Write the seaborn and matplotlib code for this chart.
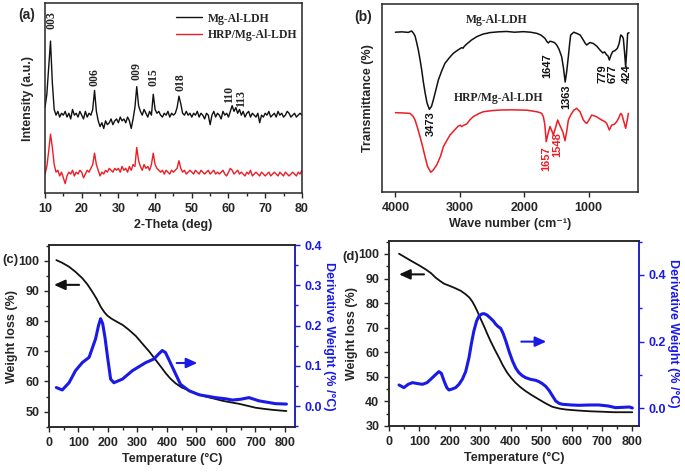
import numpy as np
import pandas as pd
import matplotlib
matplotlib.use('Agg')
import matplotlib.pyplot as plt
import seaborn as sns
from matplotlib.ticker import MultipleLocator

# ---------------- data ----------------
# (a) XRD, sampled every 0.5 deg from 10 to 80
xrd_theta = np.arange(10, 80.01, 0.5)
xrd_ldh = [45, 52, 66, 80, 58, 44, 41, 43, 40, 42,
           41, 43, 40, 42, 39, 44, 41, 42, 40, 43,
           41, 39, 43, 40, 42, 41, 44, 54, 43, 38,
           35, 37, 34, 38, 36, 37, 39, 36, 38, 39,
           37, 40, 38, 39, 37, 40, 38, 34, 39, 45,
           56, 46, 43, 41, 44, 42, 40, 43, 41, 52,
           44, 42, 43, 41, 40, 42, 41, 43, 40, 42,
           41, 42, 45, 51, 47, 42, 41, 43, 41, 42,
           40, 42, 41, 43, 40, 42, 41, 39, 42, 41,
           36, 41, 43, 40, 42, 41, 39, 43, 41, 42,
           40, 43, 46, 43, 45, 42, 44, 41, 43, 40,
           42, 43, 40, 42, 41, 40, 42, 37, 41, 40,
           42, 41, 43, 40, 41, 42, 40, 43, 41, 42,
           40, 41, 43, 42, 40, 41, 42, 40, 41, 42,
           41]
xrd_hrp = [10, 14, 22, 31, 24, 15, 11, 12, 9, 11,
           8, 5, 9, 11, 10, 12, 9, 11, 10, 12,
           11, 8, 10, 12, 11, 13, 15, 21, 15, 12,
           9, 11, 10, 12, 11, 13, 12, 11, 13, 12,
           13, 11, 14, 12, 13, 11, 14, 12, 15, 14,
           24, 17, 14, 12, 15, 13, 14, 12, 15, 21,
           15, 13, 12, 11, 12, 10, 12, 11, 10, 12,
           11, 12, 13, 17, 13, 11, 12, 10, 11, 12,
           11, 10, 12, 11, 10, 12, 11, 10, 11, 12,
           10, 11, 12, 10, 11, 10, 11, 12, 10, 9,
           11, 13, 12, 10, 11, 12, 10, 11, 10, 9,
           11, 10, 12, 9, 10, 11, 10, 9, 11, 10,
           9, 10, 11, 9, 10, 11, 10, 9, 11, 10,
           9, 11, 10, 9, 10, 11, 10, 9, 11, 10,
           12]
xrd_peak_labels = ['003', '006', '009', '015', '018', '110', '113']
xrd_peak_x = [11.8, 23.6, 35.0, 39.7, 46.8, 60.1, 63.4]
xrd_peak_y = [91, 61, 64, 61, 58.5, 52.0, 50.0]

# (b) FTIR
ftir_ldh_wn = [4000, 3900, 3800, 3760, 3747, 3720, 3695, 3670, 3644, 3618,
               3592, 3566, 3540, 3510, 3473, 3440, 3411, 3370, 3333, 3280,
               3230, 3160, 3100, 3030, 2971, 2950, 2930, 2893, 2820, 2738,
               2640, 2531, 2400, 2272, 2150, 2013, 1900, 1806, 1740, 1676,
               1647, 1625, 1600, 1573, 1530, 1495, 1460, 1418, 1390, 1363,
               1340, 1314, 1295, 1278, 1230, 1185, 1130, 1081, 1050, 1029,
               980, 926, 870, 822, 779, 750, 719, 700, 677, 650,
               625, 590, 553, 525, 501, 480, 460, 440, 424, 408,
               393, 372]
ftir_ldh_t = [85.0, 85.2, 84.9, 85.5, 85.6, 84.5, 83.0, 79.5, 75.5, 70.5,
              65.0, 58.5, 53.0, 47.5, 44.0, 45.5, 49.0, 54.5, 59.6, 64.5,
              68.5, 71.5, 73.8, 75.5, 76.8, 76.5, 77.5, 78.7, 80.8, 82.6,
              84.0, 84.8, 85.2, 85.4, 85.0, 85.3, 85.0, 84.4, 83.5, 81.7,
              80.0, 79.3, 80.2, 80.0, 79.5, 78.2, 76.0, 72.0, 66.0, 58.5,
              64.0, 72.0, 78.5, 83.5, 85.0, 84.4, 83.5, 80.8, 79.0, 78.2,
              79.5, 79.0, 77.5, 75.5, 74.0, 74.5, 72.9, 72.5, 70.2, 73.0,
              74.7, 75.2, 76.4, 79.0, 83.5, 83.0, 81.7, 74.0, 66.5, 75.0,
              84.4, 84.7]
ftir_hrp_wn = [4000, 3850, 3773, 3730, 3695, 3660, 3617, 3580, 3540, 3500,
               3451, 3410, 3358, 3300, 3255, 3200, 3152, 3080, 3023, 2990,
               2970, 2940, 2892, 2840, 2789, 2700, 2634, 2500, 2375, 2200,
               2064, 1950, 1806, 1760, 1728, 1702, 1680, 1657, 1630, 1599,
               1570, 1547, 1515, 1480, 1440, 1400, 1366, 1340, 1314, 1278,
               1230, 1185, 1133, 1081, 1050, 1029, 990, 952, 910, 874,
               830, 796, 750, 719, 677, 641, 600, 563, 530, 501,
               480, 460, 440, 424, 400, 382]
ftir_hrp_t = [42.2, 42.0, 41.8, 40.5, 38.3, 34.5, 29.4, 24.5, 18.8, 13.5,
              10.5, 11.8, 14.4, 19.0, 24.1, 27.5, 30.3, 33.0, 35.1, 35.5,
              34.8, 35.5, 36.2, 38.5, 40.1, 41.8, 42.7, 43.3, 43.6, 43.7,
              43.6, 43.5, 42.7, 42.3, 41.8, 40.0, 36.0, 26.8, 31.0, 34.8,
              32.5, 30.3, 34.0, 38.3, 35.0, 32.0, 27.3, 32.0, 38.3, 40.9,
              43.5, 44.5, 42.7, 38.3, 37.0, 36.5, 38.5, 40.9, 40.5, 40.0,
              39.0, 38.3, 37.5, 36.5, 33.0, 35.6, 36.0, 37.4, 39.5, 41.8,
              41.0, 38.3, 36.0, 33.9, 38.0, 41.8]
ftir_black_labels = ['3473', '1647', '1363', '779', '677', '424']
ftir_black_lx = [3447, 1645, 1350, 791, 620, 403]
ftir_black_ly = [36.5, 67, 50.5, 62.8, 62.8, 62.8]
ftir_red_labels = ['1657', '1548']
ftir_red_lx = [1661, 1490]
ftir_red_ly = [18, 25.5]

# (c) TGA / DTG of Mg-Al-LDH
tga_c_T = [25, 45, 68, 90, 113, 130, 147, 162, 175, 188,
           198, 212, 226, 250, 271, 295, 316, 340, 362, 380,
           396, 412, 429, 450, 475, 500, 531, 560, 588, 615,
           644, 670, 700, 730, 757, 780, 805]
tga_c_W = [100.2, 99.3, 98.0, 96.3, 94.2, 92.2, 89.7, 87.3, 84.8, 82.9,
           81.8, 80.8, 80.0, 78.7, 77.1, 75.0, 72.6, 69.9, 67.1, 64.8,
           62.7, 60.9, 59.4, 58.0, 57.0, 56.0, 55.0, 54.3, 53.6, 53.1,
           52.6, 52.0, 51.3, 50.9, 50.6, 50.4, 50.2]
dtg_c_T = [25, 45, 68, 90, 113, 136, 158, 168, 175, 182,
           190, 198, 209, 220, 249, 283, 328, 356, 370, 384,
           395, 410, 424, 446, 475, 509, 565, 600, 622, 650,
           678, 712, 768, 805]
dtg_c_D = [0.046, 0.040, 0.058, 0.088, 0.108, 0.121, 0.167, 0.200, 0.217, 0.205,
           0.170, 0.125, 0.067, 0.058, 0.067, 0.088, 0.108, 0.117, 0.128, 0.138,
           0.133, 0.110, 0.088, 0.054, 0.038, 0.028, 0.021, 0.018, 0.015, 0.017,
           0.021, 0.013, 0.006, 0.005]

# (d) TGA / DTG of HRP/Mg-Al-LDH
tga_d_T = [33, 55, 77, 100, 121, 138, 153, 168, 181, 200,
           219, 236, 252, 264, 274, 282, 290, 300, 312, 323,
           334, 348, 362, 375, 389, 402, 416, 432, 449, 470,
           493, 515, 537, 560, 581, 620, 658, 700, 740, 800]
tga_d_W = [100.1, 98.5, 96.9, 95.3, 93.7, 92.2, 90.4, 89.0, 87.9, 87.0,
           86.0, 85.0, 83.6, 82.3, 80.6, 78.8, 76.8, 73.9, 70.7, 67.5,
           64.5, 61.0, 57.7, 54.5, 51.6, 49.5, 47.6, 45.8, 44.2, 42.5,
           40.8, 39.2, 37.8, 37.1, 36.7, 36.3, 36.0, 35.8, 35.6, 35.6]
dtg_d_T = [33, 49, 63, 77, 95, 110, 125, 137, 152, 164,
           172, 181, 190, 197, 208, 219, 230, 241, 252, 263,
           271, 279, 288, 296, 305, 312, 322, 334, 343, 351,
           359, 367, 375, 384, 395, 406, 417, 427, 438, 449,
           465, 482, 493, 504, 515, 526, 537, 548, 559, 570,
           600, 625, 660, 690, 720, 745, 770, 790, 800]
dtg_d_D = [0.070, 0.062, 0.072, 0.077, 0.074, 0.072, 0.077, 0.087, 0.100, 0.110,
           0.105, 0.082, 0.062, 0.055, 0.058, 0.062, 0.072, 0.087, 0.110, 0.152,
           0.195, 0.232, 0.262, 0.277, 0.283, 0.284, 0.280, 0.270, 0.262, 0.252,
           0.245, 0.240, 0.225, 0.202, 0.170, 0.142, 0.120, 0.107, 0.098, 0.092,
           0.087, 0.084, 0.080, 0.074, 0.066, 0.054, 0.038, 0.022, 0.015, 0.012,
           0.010, 0.009, 0.010, 0.010, 0.007, 0.002, 0.003, 0.004, 0.001]

# ---------------- style ----------------
sns.set_theme(style='ticks')
plt.rcParams['font.family'] = ['Liberation Sans', 'DejaVu Sans']
plt.rcParams['font.weight'] = 'bold'
plt.rcParams['axes.labelweight'] = 'bold'
plt.rcParams['axes.linewidth'] = 1.1
plt.rcParams['xtick.major.width'] = 1.0
plt.rcParams['ytick.major.width'] = 1.0
plt.rcParams['xtick.labelsize'] = 9
plt.rcParams['ytick.labelsize'] = 9
plt.rcParams['axes.labelsize'] = 9

BLACK = '#111111'
RED = '#ee1c25'
BLUE = '#1a1ae6'
SERIF = {'family': 'Liberation Serif', 'weight': 'bold'}

fig = plt.figure(figsize=(6.85, 4.72), dpi=100)
ax_a = fig.add_axes([0.0657, 0.591, 0.375, 0.4025])
ax_b = fig.add_axes([0.5577, 0.5932, 0.3737, 0.3983])
ax_c = fig.add_axes([0.0715, 0.0953, 0.3591, 0.3856])
ax_d = fig.add_axes([0.5679, 0.0975, 0.365, 0.392])

# ---------- (a) ----------
sns.lineplot(x=xrd_theta, y=xrd_ldh, ax=ax_a, color=BLACK, lw=1.0, label='Mg-Al-LDH')
sns.lineplot(x=xrd_theta, y=xrd_hrp, ax=ax_a, color=RED, lw=1.0, label='HRP/Mg-Al-LDH')
ax_a.set_xlim(10, 80)
ax_a.set_ylim(0, 100)
ax_a.set_yticks([])
ax_a.xaxis.set_major_locator(MultipleLocator(10))
ax_a.xaxis.set_minor_locator(MultipleLocator(5))
ax_a.tick_params(axis='x', which='major', length=3.5, direction='out')
ax_a.tick_params(axis='x', which='minor', length=2, direction='out')
ax_a.set_xlabel('2-Theta (deg)', labelpad=3)
ax_a.set_ylabel('Intensity (a.u.)', labelpad=8)
for lab, x, y in zip(xrd_peak_labels, xrd_peak_x, xrd_peak_y):
    ax_a.text(x, y, lab, rotation=90, ha='center', va='center', fontsize=8.5, fontdict=SERIF)
ax_a.legend(loc='upper left', bbox_to_anchor=(0.49, 0.975), frameon=False,
            prop={'family': 'Liberation Serif', 'weight': 'bold', 'size': 8.5},
            handlelength=2.2, labelspacing=0.35, borderaxespad=0, handletextpad=0.5)
fig.text(27 / 685, 1 - 15 / 472, '(a)', ha='center', va='center', fontsize=10, fontweight='bold')

# ---------- (b) ----------
sns.lineplot(x=ftir_ldh_wn, y=ftir_ldh_t, ax=ax_b, color=BLACK, lw=1.1)
sns.lineplot(x=ftir_hrp_wn, y=ftir_hrp_t, ax=ax_b, color=RED, lw=1.1)
ax_b.set_xlim(4208, 232)
ax_b.set_ylim(0, 100)
ax_b.set_yticks([])
ax_b.set_xticks([4000, 3000, 2000, 1000])
ax_b.tick_params(axis='x', which='major', length=3.5, direction='out')
ax_b.set_xlabel('Wave number (cm⁻¹)', labelpad=3)
ax_b.set_ylabel('Transmittance (%)', labelpad=6)
ax_b.text(2422, 91.5, 'Mg-Al-LDH', ha='center', va='center', fontsize=8.5, fontdict=SERIF)
ax_b.text(2391, 50, 'HRP/Mg-Al-LDH', ha='center', va='center', fontsize=8.5, fontdict=SERIF)
for lab, x, y in zip(ftir_black_labels, ftir_black_lx, ftir_black_ly):
    ax_b.text(x, y, lab, rotation=90, ha='center', va='center', fontsize=8,
              fontweight='bold', color=BLACK)
for lab, x, y in zip(ftir_red_labels, ftir_red_lx, ftir_red_ly):
    ax_b.text(x, y, lab, rotation=90, ha='center', va='center', fontsize=8,
              fontweight='bold', color=RED)
fig.text(363 / 685, 1 - 17 / 472, '(b)', ha='center', va='center', fontsize=10, fontweight='bold')


def tga_panel(ax, T, W, Td, D, xlim, ylim_l, yt_l, ylim_r, yt_r, rminor,
              arrow_l, arrow_r, label, lpos):
    sns.lineplot(x=T, y=W, ax=ax, color=BLACK, lw=1.3)
    ax.set_xlim(*xlim)
    ax.set_ylim(*ylim_l)
    ax.set_yticks(yt_l)
    ax.xaxis.set_major_locator(MultipleLocator(100))
    ax.xaxis.set_minor_locator(MultipleLocator(50))
    ax.yaxis.set_minor_locator(MultipleLocator(5))
    ax.tick_params(which='major', length=3.5, direction='out')
    ax.tick_params(which='minor', length=2, direction='out')
    ax.set_xlabel('Temperature (°C)', labelpad=3)
    ax.set_ylabel('Weight loss (%)', labelpad=0)
    ax.annotate('', xy=arrow_l[1], xytext=arrow_l[0],
                arrowprops=dict(arrowstyle='-|>,head_length=0.55,head_width=0.25',
                                color=BLACK, lw=1.5, shrinkA=0, shrinkB=0))
    axr = ax.twinx()
    sns.lineplot(x=Td, y=D, ax=axr, color=BLUE, lw=2.2)
    axr.set_ylim(*ylim_r)
    axr.set_yticks(yt_r)
    axr.set_yticklabels([f'{v:.1f}' for v in yt_r])
    axr.yaxis.set_minor_locator(MultipleLocator(rminor))
    axr.tick_params(axis='y', which='major', length=3.5, direction='out', colors=BLUE)
    axr.tick_params(axis='y', which='minor', length=2, direction='out', colors=BLUE)
    for t in axr.get_yticklabels():
        t.set_color(BLUE)
        t.set_fontweight('bold')
    axr.spines['right'].set_color(BLUE)
    axr.set_ylabel('Derivative Weight (% /°C)', color=BLUE, rotation=270,
                   labelpad=9, fontweight='bold')
    axr.annotate('', xy=arrow_r[1], xytext=arrow_r[0],
                 arrowprops=dict(arrowstyle='-|>,head_length=0.55,head_width=0.25',
                                 color=BLUE, lw=1.5, shrinkA=0, shrinkB=0))
    fig.text(lpos[0] / 685, 1 - lpos[1] / 472, label, ha='center', va='center',
             fontsize=9.5, fontweight='bold')
    return axr


tga_panel(ax_c, tga_c_T, tga_c_W, dtg_c_T, dtg_c_D, (0, 834), (44.9, 105.2),
          [50, 60, 70, 80, 90, 100], (-0.052, 0.4), [0.0, 0.1, 0.2, 0.3, 0.4], 0.05,
          ((102, 92), (17, 92)), ((433, 0.107), (503, 0.107)), '(c)', (10, 260))
tga_panel(ax_d, tga_d_T, tga_d_W, dtg_d_T, dtg_d_D, (0, 822), (30, 105.3),
          [30, 40, 50, 60, 70, 80, 90, 100], (-0.053, 0.502), [0.0, 0.2, 0.4], 0.1,
          ((115, 91.7), (33, 91.7)), ((435, 0.2), (517, 0.2)), '(d)', (351, 257))

fig.savefig('out.png', dpi=100)
